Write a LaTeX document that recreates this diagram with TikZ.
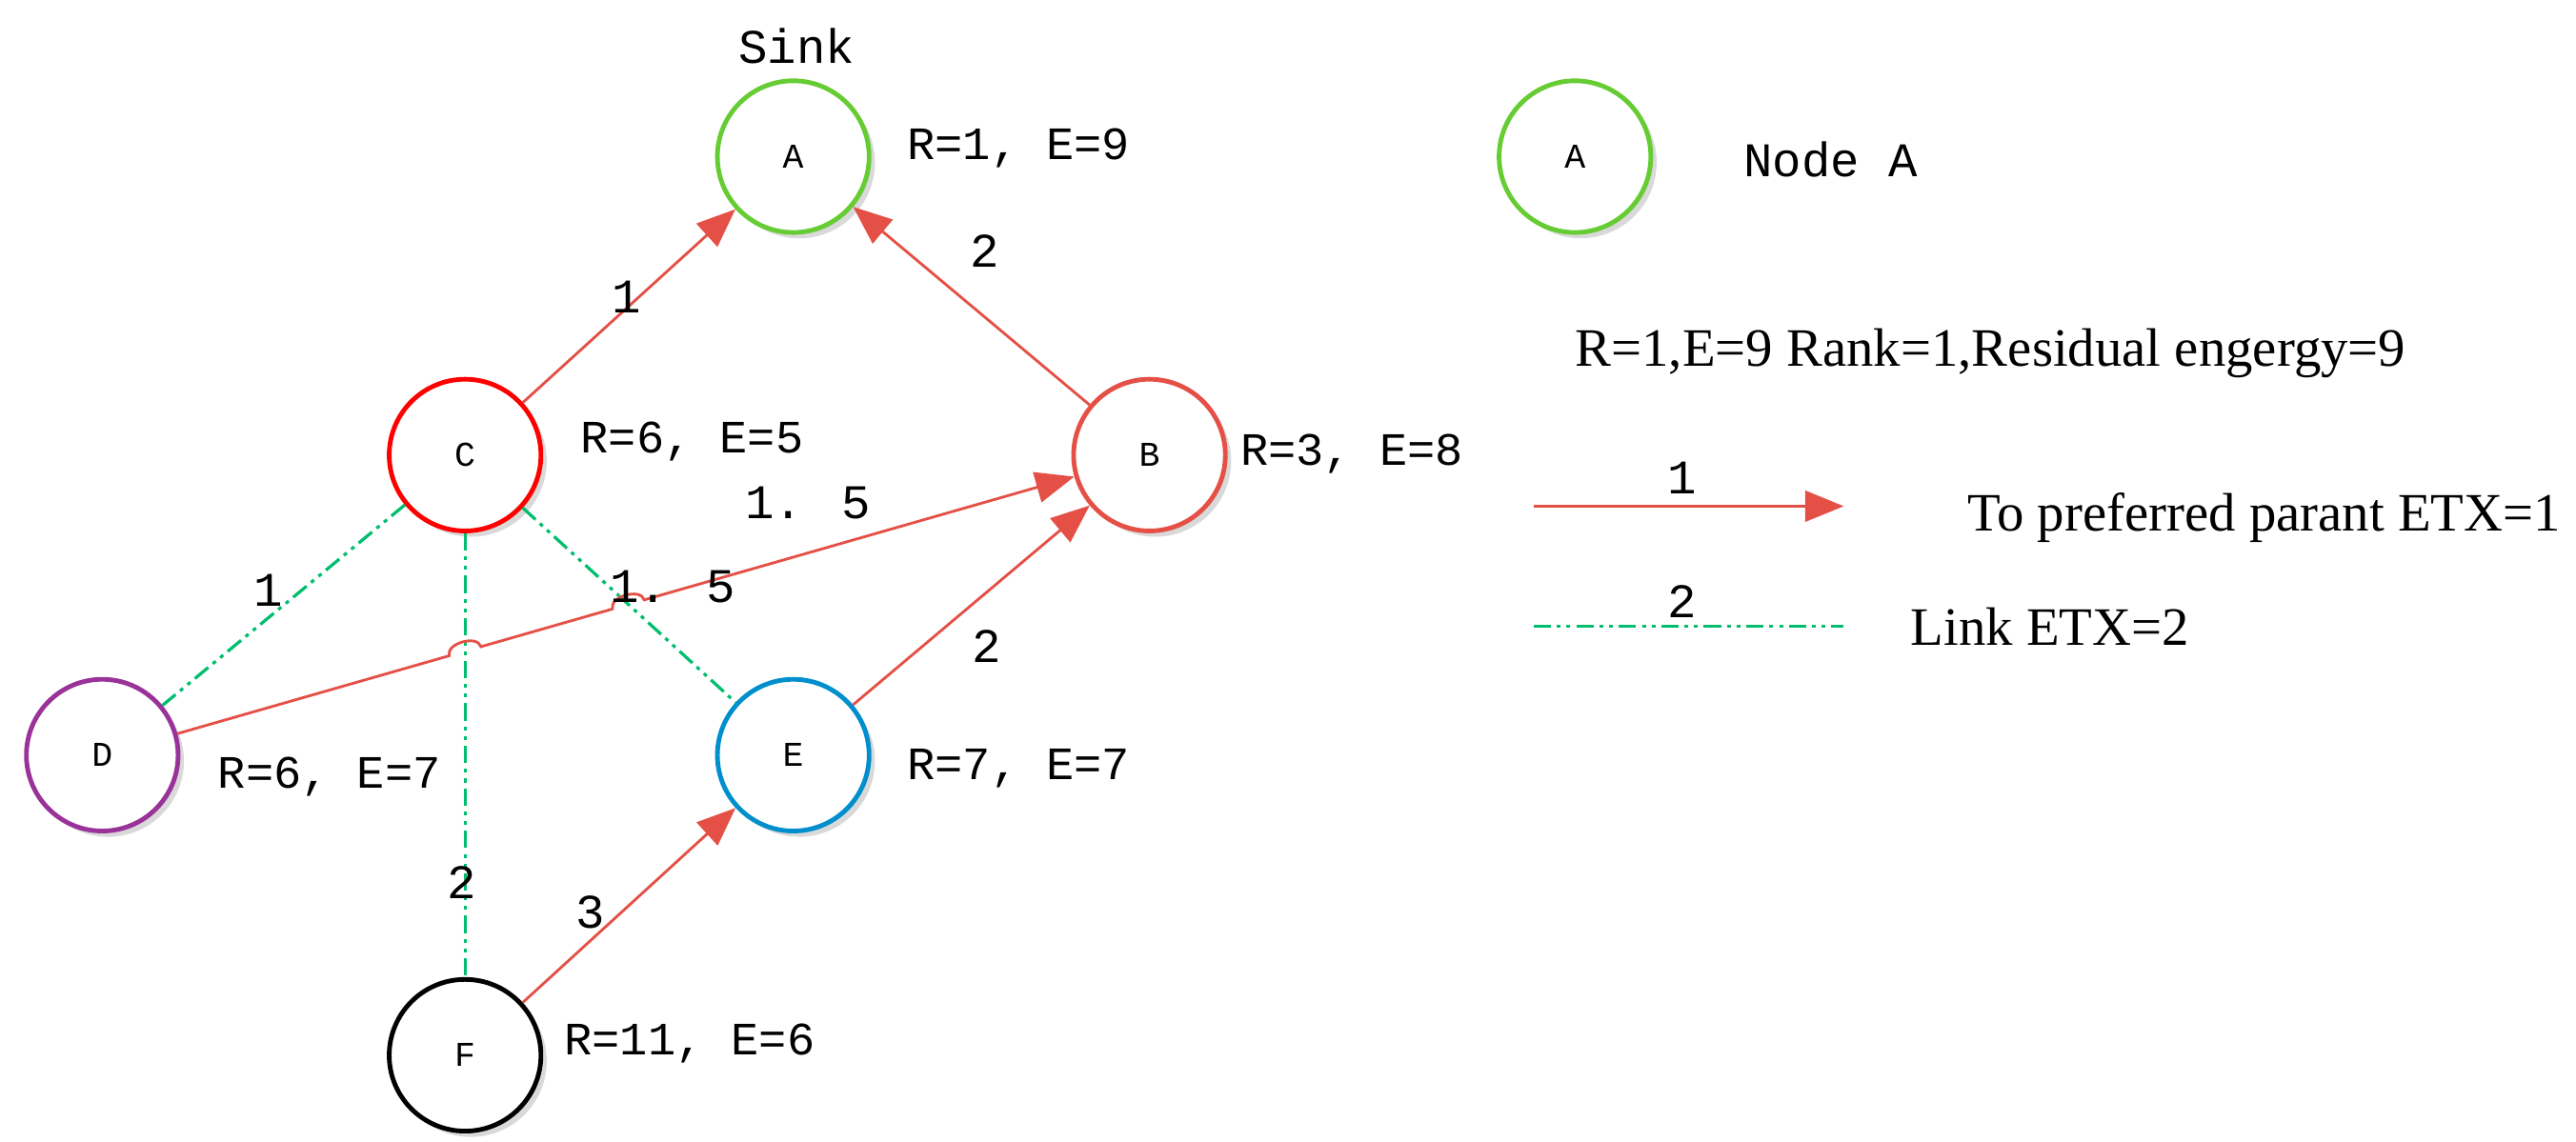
\documentclass[tikz,border=0pt]{standalone}
\usepackage{fontspec}
\setmainfont{Liberation Serif}
\newfontfamily\mono{Liberation Mono}
\usetikzlibrary{arrows.meta,calc,shadows}
\definecolor{red1}{RGB}{228,80,70}
\definecolor{grn}{RGB}{0,190,110}
\tikzset{
 nd/.style={circle,minimum size=2.76cm,line width=2.4pt,fill=white,font=\mono\fontsize{18}{18}\selectfont,
   drop shadow={shadow xshift=3pt,shadow yshift=-3pt,opacity=0.3,fill=gray}},
 lab/.style={font=\mono\fontsize{24}{24}\selectfont,anchor=west,inner sep=0},
 el/.style={font=\mono\fontsize{25}{25}\selectfont,inner sep=0},
 rd/.style={draw=red1,line width=1.4pt,-{Triangle[length=20pt,width=16pt]}},
 gd/.style={draw=grn,line width=1.6pt,dash pattern=on 9pt off 3pt on 2pt off 3pt on 2pt off 3pt},
 leg/.style={font=\fontsize{28}{28}\selectfont,inner sep=0}
}
\begin{document}
\begin{tikzpicture}[x=0.03cm,y=-0.03cm]
\useasboundingbox (0,0) rectangle (1562,692.6);
\node[nd,draw=green!50!olive!80] (A) at (481,95) {A};
\node[nd,draw=red] (C) at (282,276) {C};
\node[nd,draw=red1] (B) at (697,276) {B};
\node[nd,draw=violet!80] (D) at (62,458) {D};
\node[nd,draw=blue!30!cyan!80!black] (E) at (481,458) {E};
\node[nd,draw=black] (F) at (282,640) {F};
\node[nd,draw=green!50!olive!80] (LA) at (955,95) {A};

\node[el] (sink) at (483,28) {Sink};
\node[lab] (rA) at (550,90) {R=1, E=9};
\node[lab] (rC) at (352,268) {R=6, E=5};
\node[lab] (rB) at (752,275) {R=3, E=8};
\node[lab] (rD) at (132,471) {R=6, E=7};
\node[lab] (rE) at (550,466) {R=7, E=7};
\node[lab] (rF) at (342,633) {R=11, E=6};
\node[el] (na) at (1110,97) {Node A};
\node[leg,anchor=west] (def) at (955,214) {R=1,E=9 Rank=1,Residual engergy=9};

% green links
\draw[gd] (C) -- (D);
\draw[gd] (C) -- (F);
\draw[gd] (C) -- (E);
% red
\draw[rd] (C) -- (A);
\draw[rd] (B) -- (A);
\draw[rd] (E) -- (B);
\draw[rd] (F) -- (E);
\coordinate (h1) at (intersection of D--B and C--F);
\coordinate (h2) at (intersection of D--B and C--E);
\draw[red1,line width=1.4pt,-{Triangle[length=20pt,width=16pt]}]
  (D) -- ($(h1)!0.3cm!(D)$) to[bend left=90] ($(h1)!0.3cm!(B)$)
  -- ($(h2)!0.3cm!(D)$) to[bend left=90] ($(h2)!0.3cm!(B)$) -- (B);

\node[el] at (490,305) {1. 5};
\node[el] at (408,356) {1. 5};
\node[el] at (380,180) {1};
\node[el] at (597,152) {2};
\node[el] at (163,358) {1};
\node[el] at (280,535) {2};
\node[el] at (598,392) {2};
\node[el] at (358,553) {3};

% legend
\coordinate (l1) at (930,307); \coordinate (l2) at (1118,307);
\draw[rd] (l1) -- (l2);
\node[el] at (1020,290) {1};
\node[leg,anchor=east] at (1553,314) {To preferred parant ETX=1};
\coordinate (g1) at (930,380); \coordinate (g2) at (1118,380);
\draw[gd] (g1) -- (g2);
\node[el] at (1020,365) {2};
\node[leg] at (1243,380) {Link ETX=2};
\end{tikzpicture}
\end{document}
